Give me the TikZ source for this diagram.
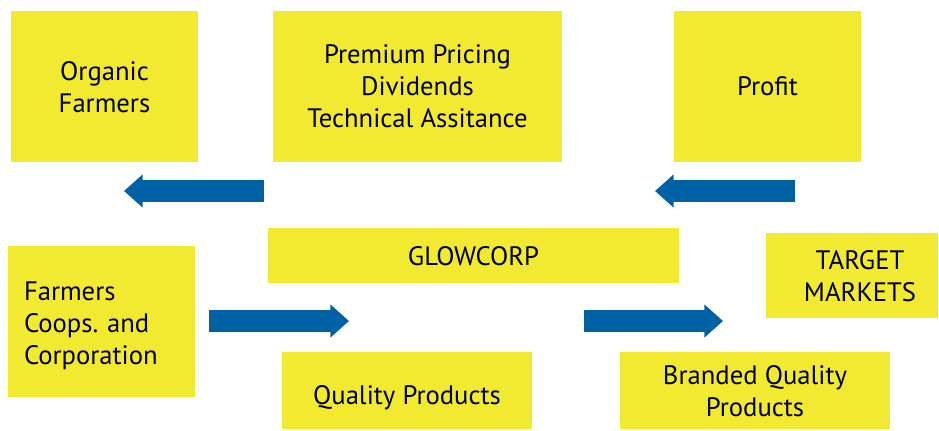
\documentclass[tikz,border=0pt]{standalone}
\usepackage{fontspec}
\setmainfont{PT Sans}
\usetikzlibrary{arrows.meta}

\definecolor{boxyellow}{RGB}{242,234,48}
\definecolor{arrowblue}{RGB}{0,98,165}

\begin{document}
\frenchspacing
\begin{tikzpicture}[x=0.75pt,y=-0.75pt,
  box/.style={fill=boxyellow, draw=none, anchor=center, align=center, inner sep=0pt, text depth=0pt,
    font=\fontsize{20pt}{24pt}\selectfont},
  bigarrow/.style={draw=arrowblue, line width=16.5pt, -{Triangle[width=24pt,length=14pt]}}]
\useasboundingbox (0,0) rectangle (939,430);

\node[box, minimum width=140.25pt, minimum height=113.25pt] (organic) at (104.5,86.5) {Organic\\Farmers};
\node[box, minimum width=216.75pt, minimum height=113.25pt] (benefits) at (417.5,86.5) {Premium Pricing\\Dividends\\Technical Assitance};
\node[box, minimum width=140.25pt, minimum height=113.25pt] (profit) at (767.5,86.5) {Profit};
\node[box, minimum width=308.25pt, minimum height=41.25pt] (glowcorp) at (473.5,255.5) {GLOWCORP};
\node[box, align=left, text width=116.25pt, inner xsep=12pt, minimum height=113.25pt, text depth=, text height=21pt] (farmers) at (101.5,321.5) {Farmers\\Coops. and\\Corporation};
\node[box, minimum width=187.5pt, minimum height=57.75pt, text height=21pt] (quality) at (407,390.5) {Quality Products};
\node[box, minimum width=202.5pt, minimum height=57.75pt] (branded) at (755,390.5) {Branded Quality\\Products};
\node[box, minimum width=129pt, minimum height=63.75pt] (target) at (852,275.5) {\hspace*{12pt}TARGET\\\hspace*{12pt}MARKETS};

% flows
\coordinate (payS) at (264,191);  \coordinate (payE) at (124,191);
\coordinate (profS) at (795,191); \coordinate (profE) at (655,191);
\coordinate (prodS) at (209,321); \coordinate (prodE) at (349,321);
\coordinate (brandS) at (584,321); \coordinate (brandE) at (723,321);

\draw[bigarrow] (payS) -- (payE);
\draw[bigarrow] (profS) -- (profE);
\draw[bigarrow] (prodS) -- (prodE);
\draw[bigarrow] (brandS) -- (brandE);

\end{tikzpicture}
\end{document}
